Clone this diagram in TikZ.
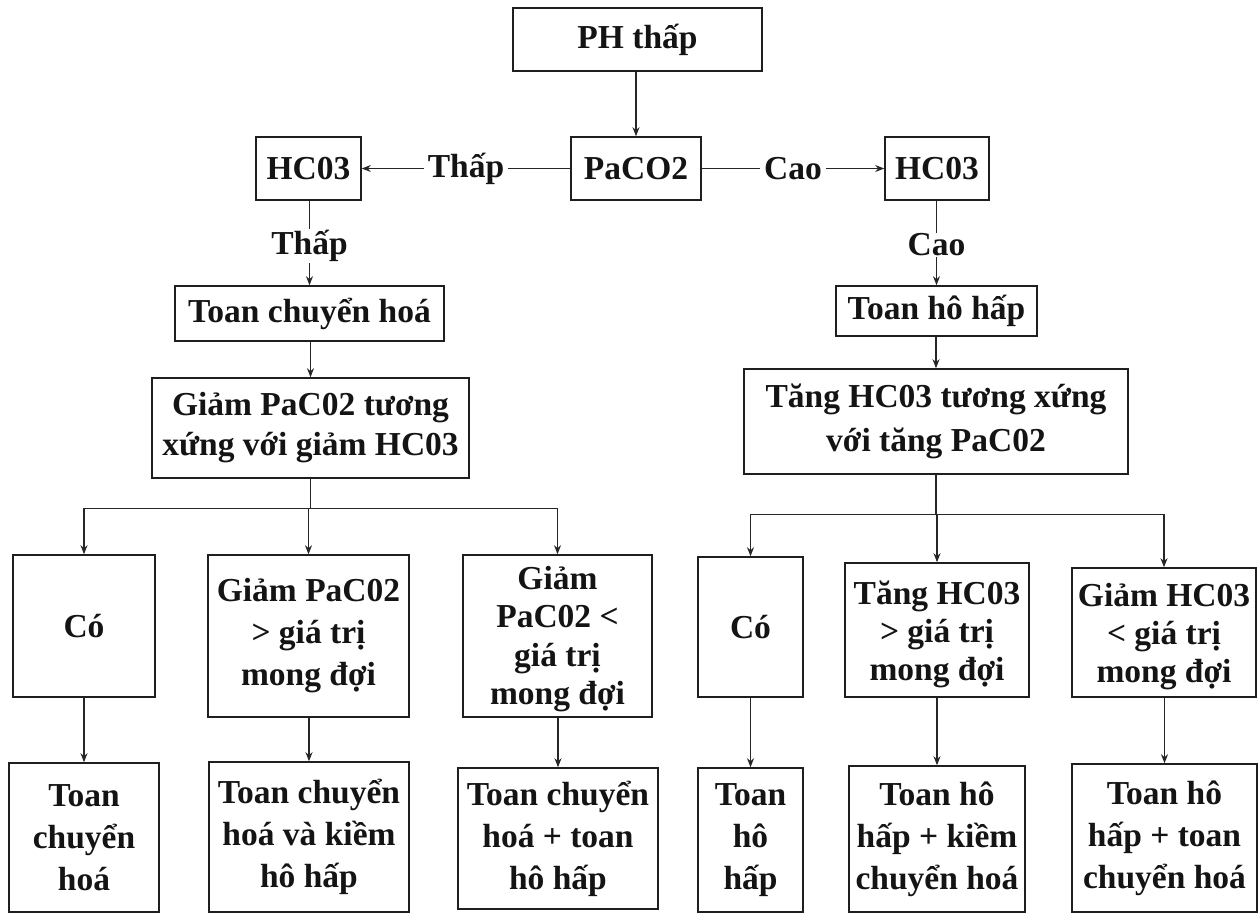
\documentclass[tikz,border=0pt]{standalone}
\usepackage{fontspec}
\setmainfont{Liberation Serif}
\usetikzlibrary{arrows.meta}
\begin{document}
\begin{tikzpicture}[x=1pt,y=-1pt,
  box/.style={draw=black!88,line width=1.6pt,rectangle,inner sep=0pt,align=center,
    font=\bfseries\fontsize{33.5}{42}\selectfont,text=black!92},
  txt/.style={inner sep=0pt,align=center,
    font=\bfseries\fontsize{33.5}{38}\selectfont,text=black!92},
  lbl/.style={fill=white,inner xsep=4pt,inner ysep=1pt,
    font=\bfseries\fontsize{33.5}{40}\selectfont,text=black!92},
  arr/.style={draw=black!85,line width=1.2pt,-{Stealth[length=9pt,width=7pt]}},
  ln/.style={draw=black!85,line width=1.2pt}]
\useasboundingbox (0,0) rectangle (1258,914);

% top levels
\node[box,minimum width=249,minimum height=63] (ph) at (637.5,39.5) {PH thấp};
\node[box,minimum width=130,minimum height=63] (paco) at (636,168.5) {PaCO2};
\node[box,minimum width=105,minimum height=63] (hcl) at (308.5,168.5) {HC03};
\node[box,minimum width=104,minimum height=63] (hcr) at (937,168.5) {HC03};

% acidosis type
\node[box,minimum width=269,minimum height=55] (tch) at (309.5,313.5) {Toan chuyển hoá};
\node[box,minimum width=201,minimum height=50] (thh) at (936.5,311) {Toan hô hấp};

% compensation
\node[box,minimum width=317,minimum height=100,font=\bfseries\fontsize{33.5}{40}\selectfont] (gtx) at (310.5,428) {Giảm PaC02 tương\\xứng với giảm HC03};
\node[box,minimum width=384,minimum height=105,font=\bfseries\fontsize{33.5}{44}\selectfont] (ttx) at (936,421.5) {Tăng HC03 tương xứng\\với tăng PaC02};

% left outcomes
\node[box,minimum width=142,minimum height=142] (col) at (84,626) {Có};
\node[box,minimum width=201,minimum height=162] (gmore) at (308.5,636) {Giảm PaC02\\> giá trị\\mong đợi};
\node[box,minimum width=189,minimum height=162,
  label={[txt,font=\bfseries\fontsize{33.5}{38.5}\selectfont,yshift=-3pt]center:{Giảm\\PaC02 <\\giá trị\\mong đợi}}] (gless) at (557.5,636) {};

% right outcomes
\node[box,minimum width=105,minimum height=140] (cor) at (750.5,627) {Có};
\node[box,minimum width=184,minimum height=134,
  label={[txt,yshift=-4pt]center:{Tăng HC03\\> giá trị\\mong đợi}}] (tmore) at (937,630) {};
\node[box,minimum width=184,minimum height=129,
  label={[txt,yshift=-4pt]center:{Giảm HC03\\< giá trị\\mong đợi}}] (hless) at (1164,632.5) {};

% diagnoses
\node[box,minimum width=150,minimum height=149] (d1) at (84,837.5) {Toan\\chuyển\\hoá};
\node[box,minimum width=200,minimum height=150] (d2) at (309,837) {Toan chuyển\\hoá và kiềm\\hô hấp};
\node[box,minimum width=200,minimum height=141] (d3) at (558,838.5) {Toan chuyển\\hoá + toan\\hô hấp};
\node[box,minimum width=105,minimum height=144] (d4) at (750.5,840) {Toan\\hô\\hấp};
\node[box,minimum width=176,minimum height=146] (d5) at (937,839) {Toan hô\\hấp + kiềm\\chuyển hoá};
\node[box,minimum width=185,minimum height=148] (d6) at (1164.5,838) {Toan hô\\hấp + toan\\chuyển hoá};

% connectors
\draw[arr] (paco.north |- ph.south) -- (paco.north);
\draw[arr] (paco.west) -- node[lbl] {Thấp} (hcl.east);
\draw[arr] (paco.east) -- node[lbl] {Cao} (hcr.west);
\draw[arr] (tch.north |- hcl.south) -- node[lbl,yshift=-3pt] {Thấp} (tch.north);
\draw[arr] (thh.north |- hcr.south) -- node[lbl,yshift=-2pt] {Cao} (thh.north);
\draw[arr] (gtx.north |- tch.south) -- (gtx.north);
\draw[arr] (ttx.north |- thh.south) -- (ttx.north);

% left fan-out
\coordinate (jl) at ([yshift=-30pt]gtx.south);
\draw[ln] (gtx.south) -- (jl);
\draw[arr] (jl) -| (col.north);
\draw[arr] (jl) -| (gless.north);
\draw[arr] (gmore.north |- jl) -- (gmore.north);

% right fan-out
\coordinate (jr) at ([yshift=-40pt]ttx.south);
\draw[ln] (ttx.south) -- (jr);
\draw[arr] (jr) -| (cor.north);
\draw[arr] (jr) -| (hless.north);
\draw[arr] (tmore.north |- jr) -- (tmore.north);

% outcome to diagnosis
\draw[arr] (d1.north |- col.south) -- (d1.north);
\draw[arr] (d2.north |- gmore.south) -- (d2.north);
\draw[arr] (d3.north |- gless.south) -- (d3.north);
\draw[arr] (d4.north |- cor.south) -- (d4.north);
\draw[arr] (d5.north |- tmore.south) -- (d5.north);
\draw[arr] (d6.north |- hless.south) -- (d6.north);
\end{tikzpicture}
\end{document}
